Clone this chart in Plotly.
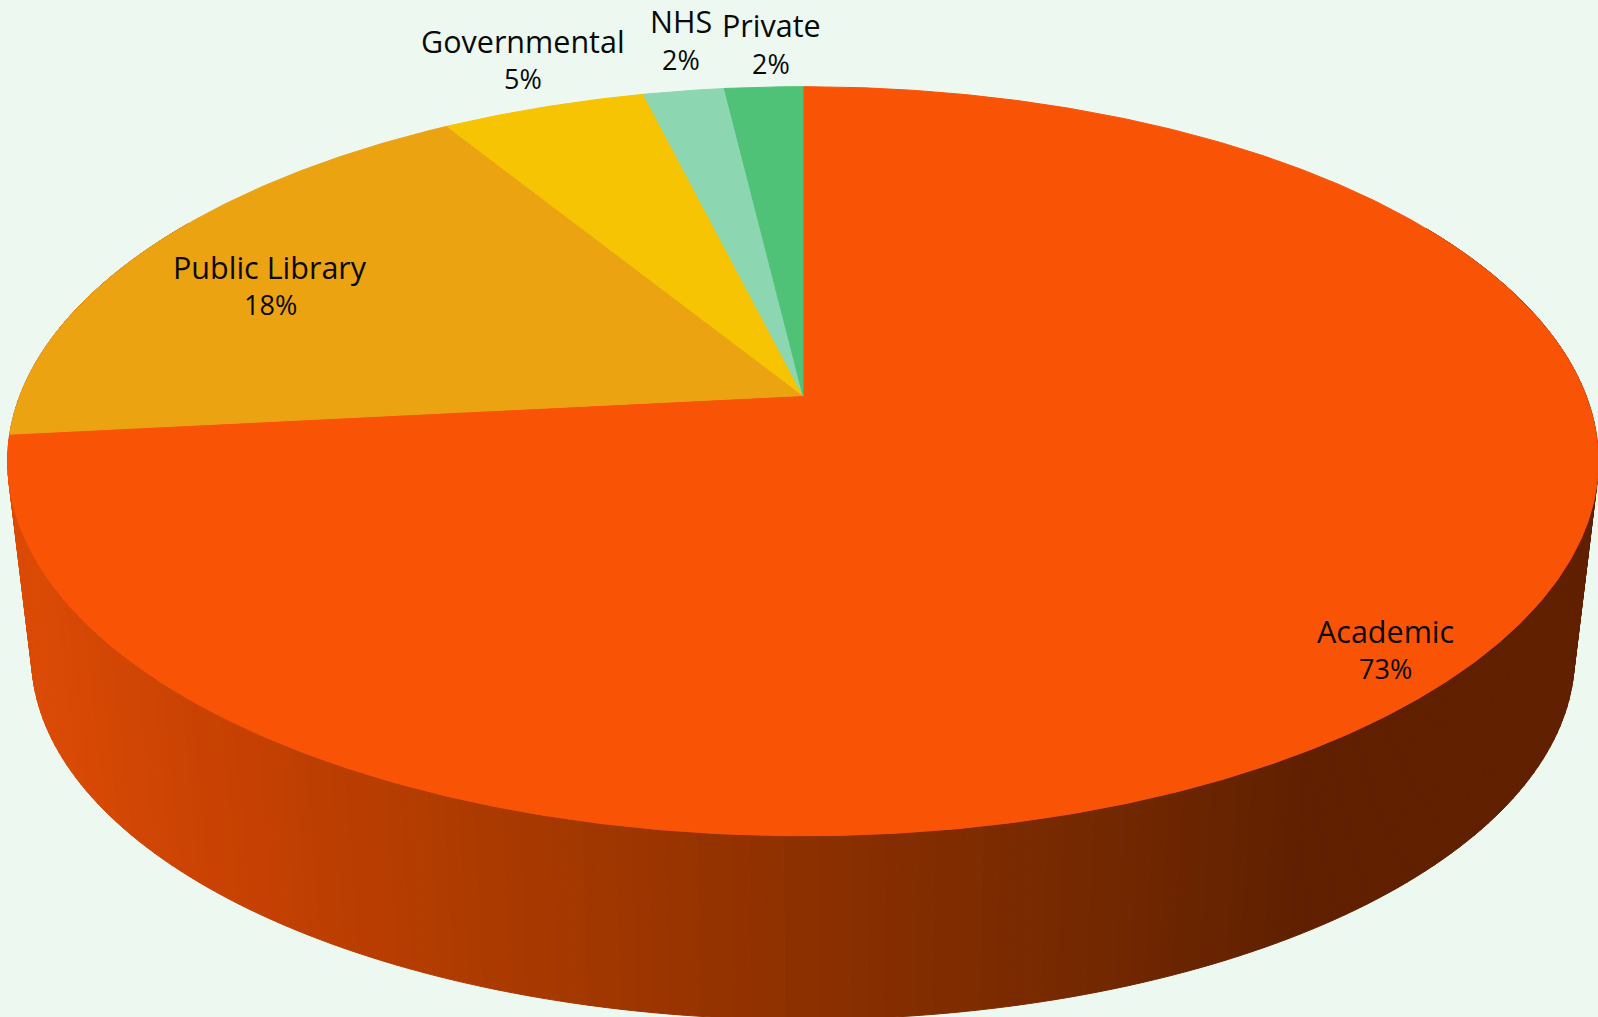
import numpy as np
import plotly.graph_objects as go

# Share of each library sector, clockwise from twelve o'clock
categories = ["Academic", "Public Library", "Governmental", "NHS", "Private"]
shares = [73, 18, 5, 2, 2]
slice_colors = ["#F95306", "#ECA312", "#F6C403", "#8DD6B2", "#50C278"]

WIDTH, HEIGHT = 1598, 1017
BACKGROUND = "#EDF8F1"
FONT = "Open Sans"
NAME_SIZE = 30.5
SHARE_SIZE = 27

# Perspective camera for the tilted disc
CX, CY = 803.0, 395.5
AX, AY = 783.0, 363.0
TILT = 0.1755
# Small angular correction of the lens on the left half of the disc (radians)
LENS = np.radians(1.2)
# The underside of the disc sits lower and slightly further away
DROP, SHRINK = 197.0, 0.97


def project(theta, floor=False):
    """Map clockwise angles (radians from the top) on the disc to the page."""
    s = np.sin(theta)
    theta = theta + LENS * np.sqrt(np.clip(-s, 0, 1))
    x = np.sin(theta)
    toward = -np.cos(theta)
    w = 1 - TILT * toward
    px, py = AX * x / w, AY * toward / w
    if floor:
        return CX + SHRINK * px, CY + DROP + SHRINK * py
    return CX + px, CY + py


def wall_color(x):
    """Side wall shading runs from burnt orange on the left to dark brown."""
    xs = [30, 260, 500, 800, 1100, 1300, 1600]
    reds = [219, 196, 170, 141, 115, 96, 96]
    greens = [75, 64, 58, 48, 40, 32, 32]
    blues = [5, 2, 0, 0, 0, 0, 0]
    level = round(x / 14) * 14
    return "rgb({:.0f},{:.0f},{:.0f})".format(
        np.interp(level, xs, reds), np.interp(level, xs, greens), np.interp(level, xs, blues)
    )


fig = go.Figure()


def add_polygon(xs, ys, color):
    fig.add_trace(go.Scatter(
        x=xs, y=ys, mode="lines", fill="toself", fillcolor=color,
        line=dict(color=color, width=1), hoverinfo="skip", showlegend=False,
    ))


# Side wall: thin quads between the upper rim and the floor rim
edges = np.radians(np.linspace(60, 300, 241))
for t0, t1 in zip(edges[:-1], edges[1:]):
    tx0, ty0 = project(t0)
    tx1, ty1 = project(t1)
    bx0, by0 = project(t0, floor=True)
    bx1, by1 = project(t1, floor=True)
    shade = wall_color((tx0 + tx1 + bx0 + bx1) / 4)
    add_polygon([tx0, tx1, bx1, bx0, tx0], [ty0, ty1, by1, by0, ty0], shade)

# Top face: one wedge per category, sized by its share
total = sum(shares)
start = 0.0
for share, color in zip(shares, slice_colors):
    sweep = 2 * np.pi * share / total
    arc = np.linspace(start, start + sweep, max(int(share * 8), 24))
    rx, ry = project(arc)
    add_polygon(np.r_[CX, rx, CX], np.r_[CY, ry, CY], color)
    start += sweep

# Label anchors for each wedge, in page pixels: name line, then share line
label_x = [1385, 270, 523, 681, 771]
name_y = [631, 267, 41, 21, 25]
share_y = [668, 304, 78, 59, 63]
for name, share, lx, ny, sy in zip(categories, shares, label_x, name_y, share_y):
    fig.add_annotation(
        x=lx, y=ny, xref="x", yref="y", text=name, showarrow=False,
        font=dict(family=FONT, size=NAME_SIZE, color="#0A0A0A"),
    )
    fig.add_annotation(
        x=lx, y=sy, xref="x", yref="y", text=f"{share}%", showarrow=False,
        font=dict(family=FONT, size=SHARE_SIZE, color="#0A0A0A"),
    )

fig.update_xaxes(range=[0, WIDTH], visible=False, fixedrange=True)
fig.update_yaxes(range=[HEIGHT, 0], visible=False, fixedrange=True)
fig.update_layout(
    width=WIDTH, height=HEIGHT, margin=dict(l=0, r=0, t=0, b=0),
    paper_bgcolor=BACKGROUND, plot_bgcolor=BACKGROUND, showlegend=False,
)
fig.write_html("out.html", config=dict(displayModeBar=False))
